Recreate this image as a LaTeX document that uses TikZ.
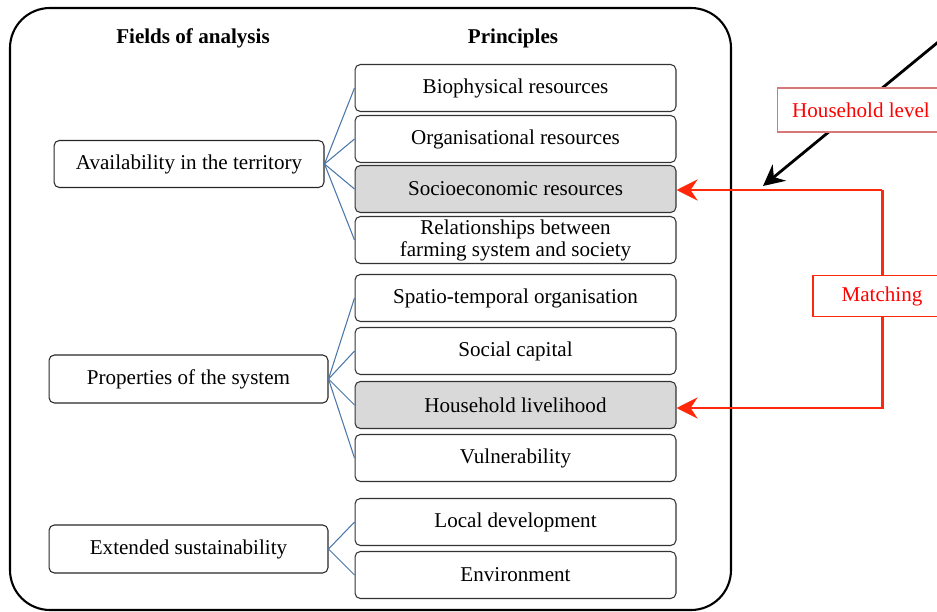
\documentclass[tikz,border=0pt]{standalone}
\usepackage{fontspec}
\setmainfont{Liberation Serif}
\usetikzlibrary{arrows.meta}
\definecolor{linkblue}{RGB}{74,118,168}
\definecolor{matchred}{RGB}{255,40,10}
\definecolor{levelred}{RGB}{215,120,120}
\definecolor{shade}{RGB}{217,217,217}
\tikzset{
	principle/.style={draw=black!80,line width=0.6pt,rounded corners=3pt,minimum width=6.42cm,minimum height=0.94cm,align=center,inner sep=1pt},
	field/.style={draw=black!85,line width=0.6pt,rounded corners=3pt,minimum height=0.94cm},
	link/.style={linkblue,line width=0.6pt},
	redarrow/.style={matchred,line width=1.7pt,-{Stealth[length=12pt,width=12pt,inset=4pt]}},
	redlabel/.style={fill=white,text=red,line width=0.6pt}
}
\begin{document}
\begin{tikzpicture}[x=0.02cm,y=-0.02cm,font=\fontsize{12}{12.5}\selectfont]
\useasboundingbox (0,0) rectangle (937,612);
\draw[line width=1.2pt,rounded corners=0.8cm] (10,8) rectangle (731,610);
\node[font=\fontsize{12}{12.5}\selectfont\bfseries] (fields) at (193,38) {Fields of analysis};
\node[font=\fontsize{12}{12.5}\selectfont\bfseries] (principles) at (513,38) {Principles};
% fields
\node[field,minimum width=5.4cm] (avail) at (189,164) {Availability in the territory};
\node[field,minimum width=5.58cm,minimum height=0.96cm] (props) at (188.5,379) {Properties of the system};
\node[field,minimum width=5.58cm,minimum height=0.96cm] (ext) at (188.5,549) {Extended sustainability};
% principles
\node[principle] (bio) at (515.5,88) {Biophysical resources};
\node[principle] (org) at (515.5,139) {Organisational resources};
\node[principle,fill=shade] (socio) at (515.5,189) {Socioeconomic resources};
\node[principle] (rel) at (515.5,240) {Relationships between\\farming system and society};
\node[principle] (spatio) at (515.5,298) {Spatio-temporal organisation};
\node[principle] (social) at (515.5,351) {Social capital};
\node[principle,fill=shade] (house) at (515.5,405) {Household livelihood};
\node[principle] (vuln) at (515.5,458) {Vulnerability};
\node[principle] (local) at (515.5,522) {Local development};
\node[principle] (env) at (515.5,575) {Environment};
\foreach \p in {bio,org,socio,rel} {
	\draw[link] (avail.east) -- (\p.west);
}
\foreach \p in {spatio,social,house,vuln} {
	\draw[link] (props.east) -- (\p.west);
}
\foreach \p in {local,env} {
	\draw[link] (ext.east) -- (\p.west);
}
% matching
\coordinate (mtop) at (882,190);
\coordinate (mbot) at (882,408);
\draw[redarrow] (mtop) -- (socio.east |- mtop);
\draw[redarrow] (mtop) -- (mbot) -- (house.east |- mbot);
\node[redlabel,draw=matchred,minimum width=2.76cm,minimum height=0.82cm] (match) at (882,296) {Matching};
% household level
\coordinate (from) at (965,20);
\coordinate (to) at (763,186);
\draw[line width=1.6pt,-{Stealth[length=12pt,width=12pt,inset=4pt]}] (from) -- (to);
\node[redlabel,draw=levelred,minimum width=3.34cm,minimum height=0.88cm] (level) at (861,110) {Household level};
\end{tikzpicture}
\end{document}
